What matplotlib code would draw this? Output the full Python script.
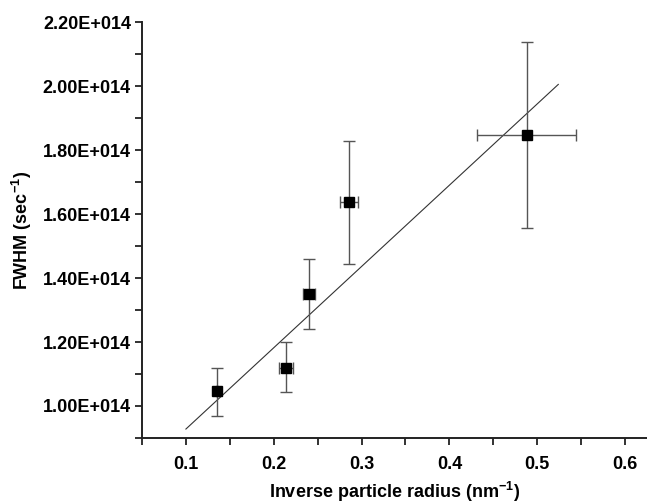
import matplotlib
matplotlib.use("Agg")
import matplotlib.pyplot as plt
from matplotlib.ticker import MultipleLocator, FuncFormatter
import numpy as np

plt.rcParams['font.family'] = ['Liberation Sans', 'DejaVu Sans']
plt.rcParams['mathtext.fontset'] = 'custom'
plt.rcParams['mathtext.rm'] = 'Liberation Sans:bold'
plt.rcParams['mathtext.bf'] = 'Liberation Sans:bold'
plt.rcParams['mathtext.it'] = 'Liberation Sans:bold'
plt.rcParams['mathtext.default'] = 'bf'

# Data
inv_radius = [0.135, 0.214, 0.240, 0.286, 0.488]
fwhm = [1.047e14, 1.120e14, 1.351e14, 1.638e14, 1.848e14]
fwhm_err_low = [0.078e14, 0.077e14, 0.111e14, 0.194e14, 0.291e14]
fwhm_err_high = [0.073e14, 0.079e14, 0.107e14, 0.191e14, 0.290e14]
x_err = [0.0, 0.008, 0.007, 0.010, 0.056]

fit_slope = 2.54e14
fit_intercept = 0.674e14
fit_x_range = [0.1, 0.524]

fig = plt.figure(figsize=(6.47, 5.04), dpi=100)
ax = fig.add_axes([142/647, 66/504, (647-142)/647, (438-22)/504])

ax.errorbar(inv_radius, fwhm, yerr=[fwhm_err_low, fwhm_err_high], xerr=x_err,
            fmt='s', color='black', markersize=6.5, ecolor='#555555',
            elinewidth=1.0, capsize=4, capthick=1.0, zorder=3)

fx = np.array(fit_x_range)
ax.plot(fx, fit_slope * fx + fit_intercept, color='#333333', lw=0.8, zorder=2)

ax.set_xlim(0.05, 0.625)
ax.set_ylim(0.9e14, 2.2e14)

ax.xaxis.set_major_locator(MultipleLocator(0.1))
ax.xaxis.set_minor_locator(MultipleLocator(0.05))
ax.yaxis.set_major_locator(MultipleLocator(0.2e14))
ax.yaxis.set_minor_locator(MultipleLocator(0.1e14))
ax.yaxis.set_major_formatter(FuncFormatter(lambda v, p: f"{v/1e14:.2f}E+014"))
ax.xaxis.set_major_formatter(FuncFormatter(lambda v, p: f"{v:.1f}"))

for s in ['top', 'right']:
    ax.spines[s].set_visible(False)
for s in ['left', 'bottom']:
    ax.spines[s].set_linewidth(1.4)
    ax.spines[s].set_color('#222222')

ax.tick_params(which='major', direction='out', length=5, width=1.3, color='#222222',
               labelsize=13, pad=3)
ax.tick_params(which='minor', direction='out', length=5, width=1.3, color='#222222')
ax.tick_params(axis='x', pad=8)
for lab in ax.get_xticklabels() + ax.get_yticklabels():
    lab.set_fontweight('bold')

ax.set_xlabel('Inverse particle radius (nm$^{-1}$)', fontsize=13, fontweight='bold', labelpad=5)
ax.set_ylabel('FWHM (sec$^{-1}$)', fontsize=13, fontweight='bold', labelpad=6)

fig.savefig('out.png', dpi=100)
